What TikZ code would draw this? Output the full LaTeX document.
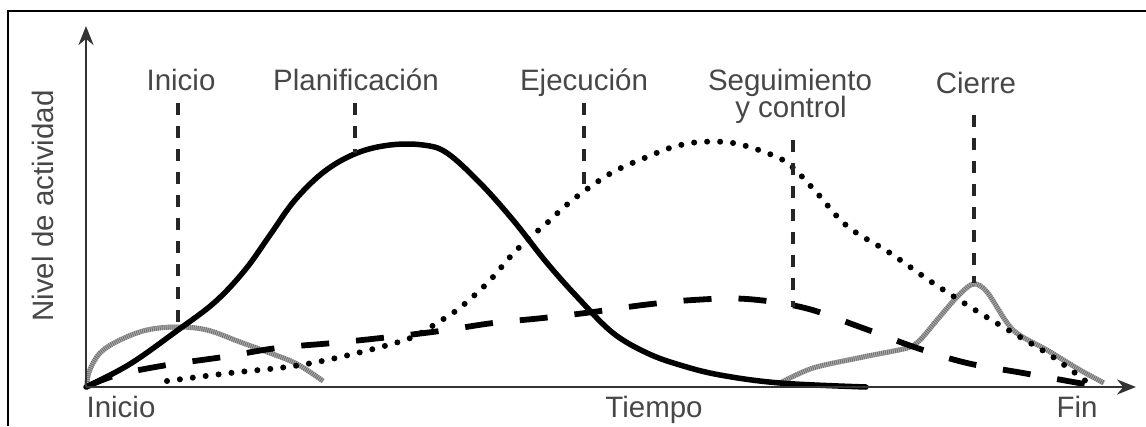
\documentclass[tikz,border=0pt]{standalone}
\usepackage{fontspec}
\setmainfont{Liberation Sans}
\usetikzlibrary{arrows.meta}
\begin{document}
\begin{tikzpicture}[x=1pt,y=-1pt,
  lbl/.style={font=\fontsize{29.5}{33}\selectfont, text=black!72, inner sep=0pt, anchor=base},
  frame/.style={line width=2pt, draw=black},
  axisline/.style={line width=2.5pt, draw=black!80, -{Stealth[length=19pt,width=15pt]}},
  vdash/.style={line width=3.8pt, draw=black!85, dash pattern=on 12pt off 11pt},
  planc/.style={line width=5.5pt, draw=black, line cap=round, line join=round},
  segc/.style={line width=5.8pt, draw=black, dash pattern=on 28pt off 27pt},
  ejec/.style={line width=6pt, draw=black, line cap=round, dash pattern=on 0pt off 13pt},
  grayc/.style={line width=5pt, draw=black!55, dash pattern=on 1pt off 1pt,
                preaction={draw=black!30, line width=5pt, solid}}
]
\useasboundingbox (0,0) rectangle (1146,426);
\draw[frame] (8,426) -- (8,11) -- (1146,11);

% axes
\coordinate (O) at (86,387);
\coordinate (Ytop) at (86,26);
\coordinate (Xend) at (1136,387);

% curves
\draw[grayc] plot[smooth, tension=0.6] coordinates {(87,386) (89,372) (100,353) (120,340) (147,330) (177,327) (207,330) (240,342) (270,353) (297,364) (323,381)};
\draw[grayc] plot[smooth, tension=0.5] coordinates {(780,383) (813,368) (863,357) (907,348) (920,340) (937,320) (957,297) (973,284) (987,292) (1013,330) (1047,350) (1080,370) (1104,383)};
\draw[ejec] plot[smooth, tension=0.6] coordinates {(167,381) (230,373) (287,367) (327,360) (377,348) (413,337) (437,323) (457,310) (477,293) (493,277) (510,257) (527,240) (547,223) (563,208) (583,192) (613,172) (647,157) (673,147) (700,142) (733,143) (767,153) (790,165) (817,193) (847,226) (890,253) (933,283) (980,313) (1020,337) (1053,357) (1087,382)};
\draw[segc] plot[smooth, tension=0.6] coordinates {(86,387) (117,375) (167,365) (223,357) (277,348) (333,343) (390,337) (440,331) (493,323) (543,318) (593,312) (643,305) (693,300) (747,299) (805,308) (860,327) (917,348) (967,363) (1023,373) (1090,385)};
\draw[planc] plot[smooth, tension=0.6] coordinates {(86,387) (130,364) (178,330) (215,302) (245,270) (270,235) (295,200) (325,171) (357,153) (390,145) (423,145) (447,153) (480,183) (513,220) (547,263) (580,300) (613,333) (647,353) (680,365) (720,375) (780,383) (866,387)};

\draw[axisline] (O) -- (Ytop);
\draw[axisline] (O) -- (Xend);

% phase labels
\node[lbl] (lInicio) at (181,90) {Inicio};
\node[lbl] (lPlan) at (356,90) {Planificación};
\node[lbl] (lEjec) at (584,90) {Ejecución};
\node[lbl] (lSeg) at (790,90) {Seguimiento};
\node[lbl] (lCtrl) at (791,117) {y control};
\node[lbl] (lCierre) at (976,93) {Cierre};

% dashed markers
\coordinate (a1) at (178,103); \coordinate (a2) at (178,327);
\coordinate (b1) at (355,103); \coordinate (b2) at (355,153);
\coordinate (c1) at (584,103); \coordinate (c2) at (584,186);
\coordinate (d1) at (793,140); \coordinate (d2) at (793,307);
\coordinate (e1) at (974,115); \coordinate (e2) at (974,283);
\draw[vdash] (a1) -- (a2);
\draw[vdash] (b1) -- (b2);
\draw[vdash] (c1) -- (c2);
\draw[vdash] (d1) -- (d2);
\draw[vdash] (e1) -- (e2);

% axis labels
\node[lbl] (xInicio) at (121,417) {Inicio};
\node[lbl] (xTiempo) at (654,417) {Tiempo};
\node[lbl] (xFin) at (1077,417) {Fin};
\node[lbl, rotate=90] (yLabel) at (53,206) {Nivel de actividad};
\end{tikzpicture}
\end{document}
